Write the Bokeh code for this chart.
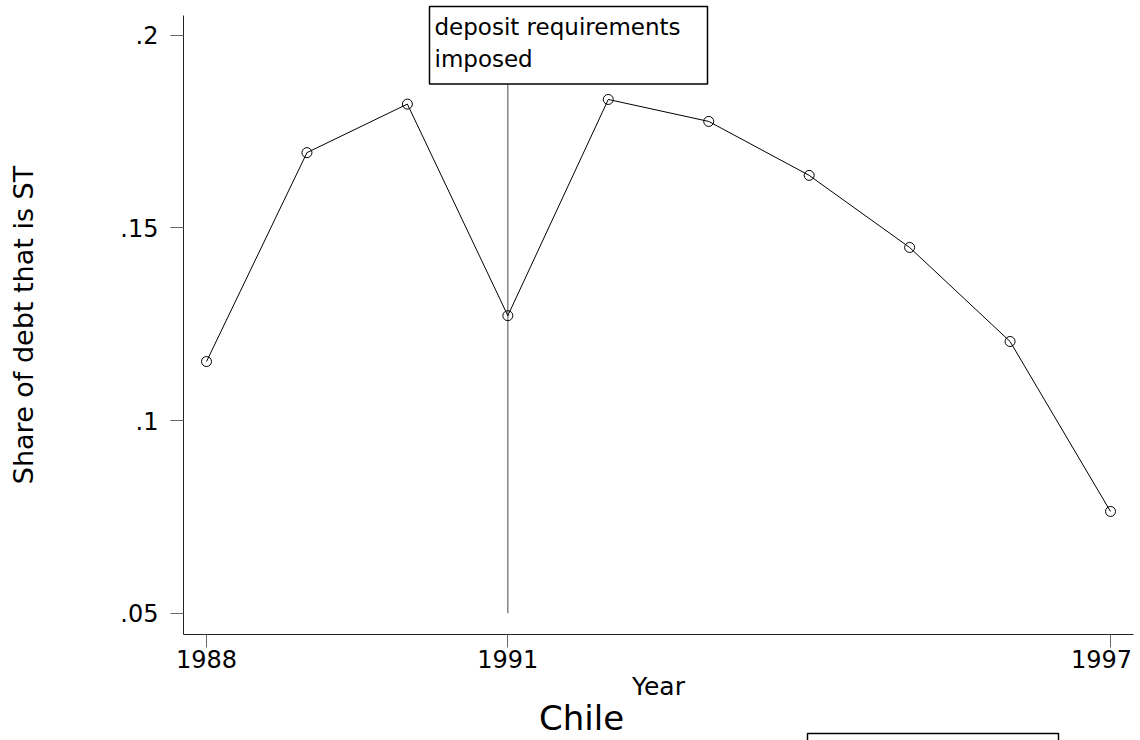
from bokeh.plotting import figure
from bokeh.models import Range1d, FixedTicker, Label, BoxAnnotation
from bokeh.embed import file_html
from bokeh.resources import INLINE

# ---- data ----
years = [1988, 1989, 1990, 1991, 1992, 1993, 1994, 1995, 1996, 1997]
share_st = [0.1153, 0.1695, 0.1821, 0.1272, 0.1833, 0.1776, 0.1636, 0.1449, 0.1205, 0.0764]
x_ticks = [1988, 1991, 1997]
y_ticks = [0.05, 0.10, 0.15, 0.20]
y_tick_labels = [".05", ".1", ".15", ".2"]
event_year = 1991
event_lines = ["deposit requirements", "imposed"]
title_text = "Chile"
x_title = "Year"
y_title = "Share of debt that is ST"

FONT = "DejaVu Sans"
W, H = 1140, 740

# ---- pixel <-> data helpers (layout only) ----
PX_YEAR = (1110 - 206) / 9.0
PX_UNIT = (612.7 - 34.6) / 0.15


def xv(px):
    return 1988 + (px - 206) / PX_YEAR


def yv(py):
    return 0.2 - (py - 34.6) / PX_UNIT


AX_L, AX_R, AX_T, AX_B = 183, 1133, 15, 634
TICK_OUT, XLAB_STANDOFF = 13, 2

# the frame covers the whole canvas; the axes are pinned at fixed data locations
p = figure(width=W, height=H,
           x_range=Range1d(xv(0), xv(W)),
           y_range=Range1d(yv(H), yv(0)),
           output_backend="svg", toolbar_location=None,
           min_border_left=0, min_border_right=0,
           min_border_top=0, min_border_bottom=0)
p.outline_line_color = None
p.grid.visible = False
p.background_fill_color = "white"
p.border_fill_color = "white"

# x axis
xa = p.xaxis[0]
xa.fixed_location = yv(AX_B)
xa.bounds = (xv(AX_L), xv(AX_R))
xa.ticker = FixedTicker(ticks=x_ticks)
xa.major_label_overrides = {x_ticks[-1]: ""}
xa.minor_tick_line_color = None
xa.major_tick_in = 0
xa.major_tick_out = TICK_OUT
xa.major_tick_line_color = "#666666"
xa.axis_line_color = "#222222"
xa.major_label_standoff = XLAB_STANDOFF
xa.major_label_text_font = FONT
xa.major_label_text_font_size = "24px"
xa.major_label_text_color = "black"
xa.axis_label = x_title
xa.axis_label_text_font = FONT
xa.axis_label_text_font_size = "25px"
xa.axis_label_text_font_style = "normal"
xa.axis_label_text_color = "black"
xa.axis_label_standoff = 1

# y axis
ya = p.yaxis[0]
ya.fixed_location = xv(AX_L)
ya.bounds = (yv(AX_B), yv(AX_T))
ya.ticker = FixedTicker(ticks=y_ticks)
ya.major_label_overrides = {t: s for t, s in zip(y_ticks, y_tick_labels)}
ya.minor_tick_line_color = None
ya.major_tick_in = 0
ya.major_tick_out = TICK_OUT
ya.major_tick_line_color = "#666666"
ya.axis_line_color = "#222222"
ya.major_label_standoff = 12
ya.major_label_text_font = FONT
ya.major_label_text_font_size = "24px"
ya.major_label_text_color = "black"
ya.axis_label = y_title
ya.axis_label_text_font = FONT
ya.axis_label_text_font_size = "27px"
ya.axis_label_text_font_style = "normal"
ya.axis_label_text_color = "black"
ya.axis_label_standoff = 78

# last x tick label nudged left so it stays inside the page
p.add_layout(Label(x=x_ticks[-1], y=yv(AX_B + TICK_OUT + XLAB_STANDOFF), x_offset=-9,
                   text=str(x_ticks[-1]), text_align="center", text_baseline="top",
                   text_font=FONT, text_font_size="24px", text_color="black"))

# event line + annotation box
p.segment(x0=[event_year], y0=[y_ticks[0]], x1=[event_year], y1=[yv(84)],
          line_color="#666666", line_width=1.2)
p.add_layout(BoxAnnotation(left=xv(429), right=xv(707), top=yv(6), bottom=yv(83.5),
                           fill_color=None, fill_alpha=0, line_color="black",
                           line_width=1.5, line_alpha=1))
for i, t in enumerate(event_lines):
    p.add_layout(Label(x=xv(434), y=yv(13 + 32 * i), text=t,
                       text_align="left", text_baseline="top",
                       text_font=FONT, text_font_size="23px", text_color="black"))

# series
p.line(years, share_st, line_color="black", line_width=1)
p.scatter(years, share_st, marker="circle", size=10, fill_color=None,
          line_color="black", line_width=1)

# title and empty legend frame
p.add_layout(Label(x=xv(581), y=yv(697), text=title_text, text_align="center",
                   text_baseline="top", text_font=FONT,
                   text_font_size="34px", text_color="black"))
p.add_layout(BoxAnnotation(left=xv(807), right=xv(1058), top=yv(733), bottom=yv(800),
                           fill_color=None, fill_alpha=0, line_color="black",
                           line_width=1.5, line_alpha=1))

open("out.html", "w").write(file_html(p, INLINE))
